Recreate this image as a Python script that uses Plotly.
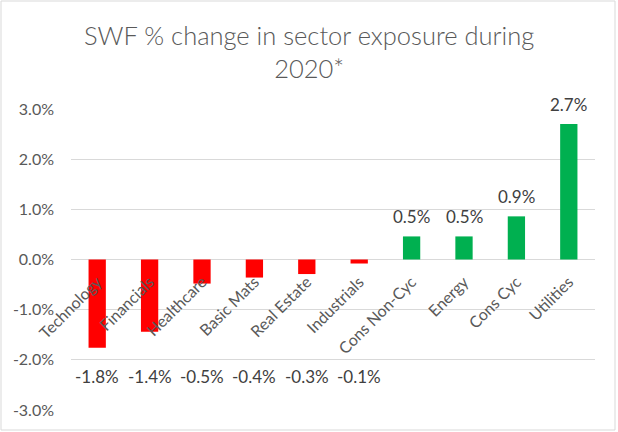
import plotly.graph_objects as go

categories = ["Technology", "Financials", "Healthcare", "Basic Mats", "Real Estate",
              "Industrials", "Cons Non-Cyc", "Energy", "Cons Cyc", "Utilities"]
values = [-1.76, -1.44, -0.48, -0.36, -0.29, -0.08, 0.46, 0.46, 0.86, 2.70]
value_labels = ["-1.8%", "-1.4%", "-0.5%", "-0.4%", "-0.3%", "-0.1%", "0.5%", "0.5%", "0.9%", "2.7%"]
y_ticks = [3, 2, 1, 0, -1, -2, -3]
y_tick_labels = ["3.0%", "2.0%", "1.0%", "0.0%", "-1.0%", "-2.0%", "-3.0%"]
neg_label_y = -2.33
title_text = "SWF % change in sector exposure during<br>2020*"

RED = "#FF0000"
GREEN = "#00B050"
FONT = "Lato"
GREY = "#595959"

colors = [RED if v < 0 else GREEN for v in values]

fig = go.Figure()
fig.add_trace(go.Bar(x=categories, y=values, marker=dict(color=colors, line=dict(width=0)),
                     width=0.33, hoverinfo="skip", cliponaxis=False))

annotations = []
for c, v, t in zip(categories, values, value_labels):
    if v >= 0:
        annotations.append(dict(x=c, y=v, xref="x", yref="y", text=t, showarrow=False,
                                yanchor="bottom", yshift=7,
                                font=dict(family=FONT, size=17, color="#404040")))
    else:
        annotations.append(dict(x=c, y=neg_label_y, xref="x", yref="y", text=t, showarrow=False,
                                yanchor="middle",
                                font=dict(family=FONT, size=17, color="#404040")))

# title as annotation for precise placement
annotations.append(dict(x=(309 - 71) / 524, xref="paper", y=(410 - 52) / 301, yref="paper",
                        text=title_text, showarrow=False, xanchor="center", yanchor="middle",
                        font=dict(family=FONT, size=25.5, color=GREY, weight=300)))

fig.update_layout(
    width=618, height=432,
    margin=dict(l=71, r=23, t=109, b=22),
    paper_bgcolor="white", plot_bgcolor="white",
    showlegend=False,
    xaxis=dict(type="category", anchor="free", position=0.5, showgrid=False,
               showline=False, zeroline=False, tickangle=-45,
               ticks="outside", ticklen=6, tickcolor="rgba(0,0,0,0)",
               tickfont=dict(family=FONT, size=16, color=GREY),
               range=[-0.5, len(categories) - 0.5]),
    yaxis=dict(range=[-3, 3], tickmode="array", tickvals=y_ticks, ticktext=y_tick_labels,
               showgrid=True, gridcolor="#D9D9D9", gridwidth=1, zeroline=True,
               zerolinecolor="#D9D9D9", zerolinewidth=1, showline=False,
               tickfont=dict(family=FONT, size=16, color=GREY), ticks="", ticklabelstandoff=16),
    annotations=annotations,
    shapes=[dict(type="rect", xref="paper", yref="paper",
                 x0=(1 - 71) / 524, x1=(615 - 71) / 524,
                 y0=(410 - 430) / 301, y1=(410 - 1) / 301,
                 line=dict(color="#D9D9D9", width=1), fillcolor="rgba(0,0,0,0)", layer="below")],
)

fig.write_html("out.html")
